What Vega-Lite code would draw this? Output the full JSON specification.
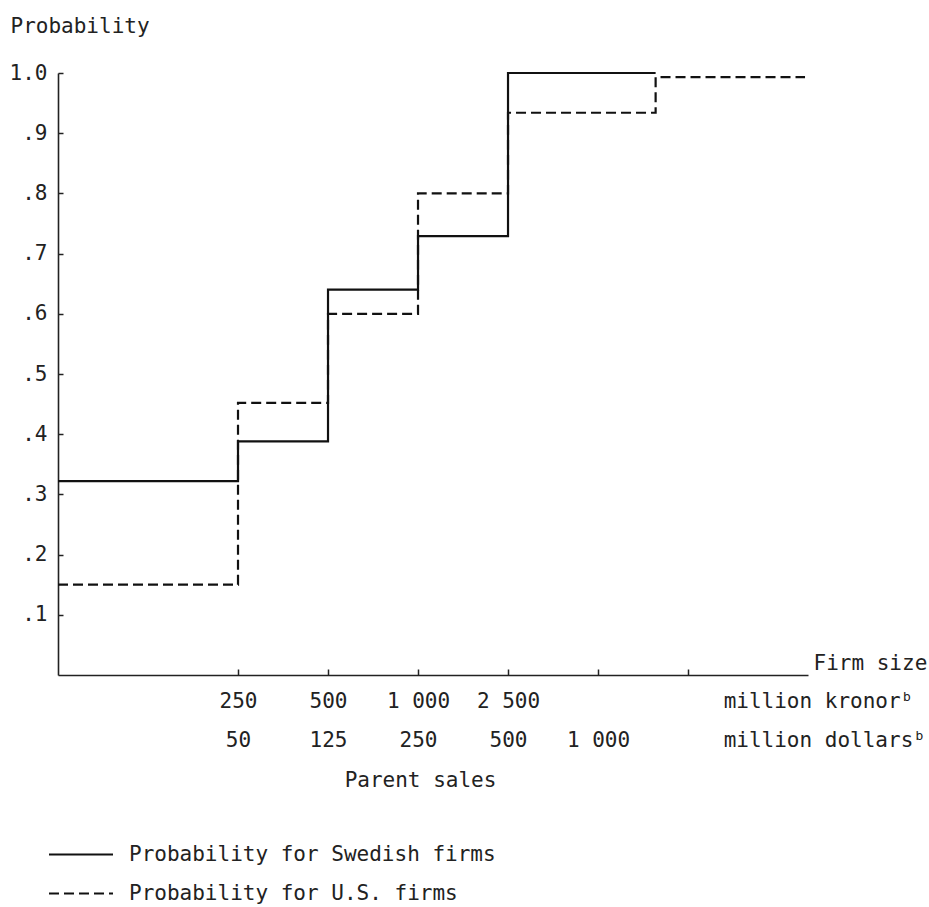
{
  "$schema": "https://vega.github.io/schema/vega-lite/v6.json",
  "width": 750,
  "height": 602,
  "autosize": {"type": "none"},
  "padding": {"left": 58, "top": 73, "right": 121, "bottom": 232},
  "background": "white",
  "config": {
    "view": {"stroke": null},
    "font": "DejaVu Sans Mono",
    "axis": {
      "labelFont": "DejaVu Sans Mono",
      "titleFont": "DejaVu Sans Mono",
      "labelFontSize": 21,
      "titleFontSize": 21,
      "titleFontWeight": "normal",
      "labelColor": "#222",
      "titleColor": "#222",
      "domainColor": "#222",
      "tickColor": "#222",
      "domainWidth": 1.6,
      "tickWidth": 1.5,
      "grid": false,
      "labelOverlap": false,
      "labelFlush": false,
      "labelLimit": 0,
      "titleLimit": 0
    }
  },
  "data": {
    "values": [
      {"series": "Probability for Swedish firms", "size": 0, "prob": 0.322},
      {"series": "Probability for Swedish firms", "size": 2, "prob": 0.388},
      {"series": "Probability for Swedish firms", "size": 3, "prob": 0.64},
      {"series": "Probability for Swedish firms", "size": 4, "prob": 0.729},
      {"series": "Probability for Swedish firms", "size": 5, "prob": 1.0},
      {"series": "Probability for Swedish firms", "size": 6.64, "prob": 1.0},
      {"series": "Probability for U.S. firms", "size": 0, "prob": 0.15},
      {"series": "Probability for U.S. firms", "size": 2, "prob": 0.452},
      {"series": "Probability for U.S. firms", "size": 3, "prob": 0.6},
      {"series": "Probability for U.S. firms", "size": 4, "prob": 0.8},
      {"series": "Probability for U.S. firms", "size": 5, "prob": 0.934},
      {"series": "Probability for U.S. firms", "size": 6.64, "prob": 0.993},
      {"series": "Probability for U.S. firms", "size": 8.3, "prob": 0.993}
    ]
  },
  "layer": [
    {
      "mark": {"type": "line", "interpolate": "step-after", "strokeWidth": 2.2, "color": "#111", "strokeCap": "butt"},
      "encoding": {
        "x": {
          "field": "size",
          "type": "quantitative",
          "scale": {"domain": [0, 8.333], "nice": false, "zero": false},
          "axis": {
            "orient": "bottom",
            "values": [2, 3, 4, 5, 6, 7],
            "tickSize": -6,
            "labelPadding": 21,
            "labelLineHeight": 39,
            "labelExpr": "datum.value == 2 ? ['250', '50'] : datum.value == 3 ? ['500', '125'] : datum.value == 4 ? ['1 000', '250'] : datum.value == 5 ? ['2 500', '500'] : datum.value == 6 ? ['', '1 000'] : ''",
            "title": "Parent sales",
            "titleX": 362,
            "titleY": 111,
            "titleAlign": "center",
            "titleBaseline": "alphabetic"
          }
        },
        "y": {
          "field": "prob",
          "type": "quantitative",
          "scale": {"domain": [0, 1], "nice": false},
          "axis": {
            "orient": "left",
            "values": [0.1, 0.2, 0.3, 0.4, 0.5, 0.6, 0.7, 0.8, 0.9, 1.0],
            "tickSize": -5,
            "labelPadding": 16,
            "labelExpr": "datum.value >= 0.999 ? '1.0' : '.' + format(datum.value * 10, 'd')",
            "title": "Probability",
            "titleAngle": 0,
            "titleAlign": "left",
            "titleBaseline": "alphabetic",
            "titleX": -48,
            "titleY": -41
          }
        },
        "strokeDash": {
          "field": "series",
          "type": "nominal",
          "scale": {
            "domain": ["Probability for Swedish firms", "Probability for U.S. firms"],
            "range": [[1, 0], [10, 5]]
          },
          "legend": {
            "title": null,
            "orient": "none",
            "legendX": -10,
            "legendY": 771,
            "padding": 0,
            "symbolType": "stroke",
            "symbolSize": 4096,
            "symbolStrokeWidth": 2,
            "symbolStrokeColor": "#111",
            "clipHeight": 21,
            "labelFont": "DejaVu Sans Mono",
            "labelFontSize": 21,
            "labelColor": "#222",
            "labelLimit": 0,
            "labelOffset": 15,
            "rowPadding": 17
          }
        }
      }
    },
    {
      "mark": {"type": "point", "opacity": 0},
      "encoding": {
        "x": {
          "field": "size",
          "type": "quantitative",
          "axis": {
            "orient": "bottom",
            "values": [7.39],
            "domain": false,
            "tickSize": -6,
            "tickOpacity": 0,
            "labelPadding": 21,
            "labelLineHeight": 39,
            "labelAlign": "left",
            "labelExpr": "['million kronorᵇ', 'million dollarsᵇ']",
            "title": "Firm size",
            "titleX": 755,
            "titleY": -6,
            "titleAlign": "left",
            "titleBaseline": "alphabetic"
          }
        }
      }
    }
  ],
  "resolve": {"axis": {"x": "independent"}}
}
